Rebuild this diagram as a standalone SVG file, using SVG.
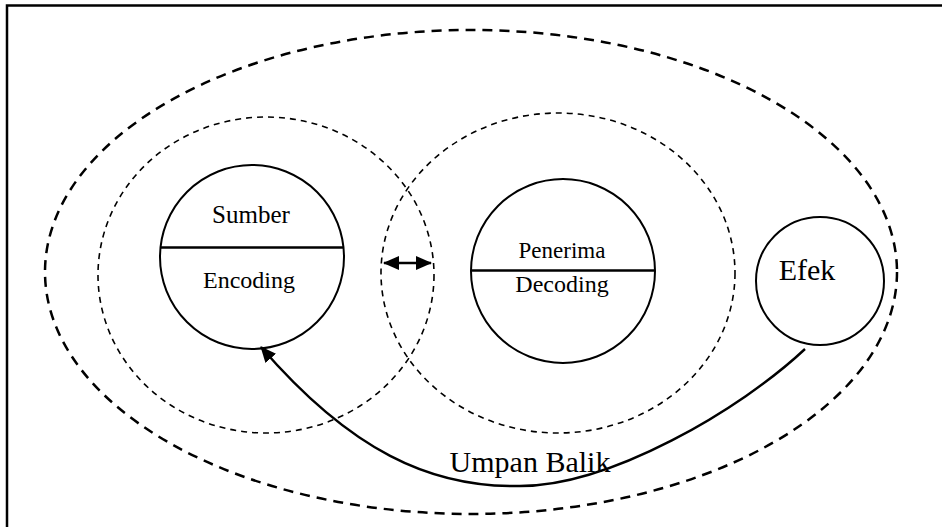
<svg xmlns="http://www.w3.org/2000/svg" width="942" height="527" viewBox="0 0 942 527">
<style>
.t{font-family:"Liberation Serif","Times New Roman",serif;fill:#000;text-anchor:middle}
.node{fill:none;stroke:#000;stroke-width:2}
.big{fill:none;stroke:#000;stroke-width:2.5;stroke-dasharray:10 7}
.ring{fill:none;stroke:#000;stroke-width:1.6;stroke-dasharray:6 5}
.conn{fill:none;stroke:#000;stroke-width:2.4}
</style>
<defs>
<marker id="ah" viewBox="0 0 16 14" refX="15" refY="7" markerWidth="16" markerHeight="14" markerUnits="userSpaceOnUse" orient="auto-start-reverse">
<path d="M0,0 L16,7 L0,14 Z" fill="#000"/>
</marker>
</defs>
<rect width="942" height="527" fill="#fff"/>
<path d="M7,527 V5.5 H942" fill="none" stroke="#000" stroke-width="2.5"/>
<g id="outer"><ellipse class="big" cx="471" cy="272" rx="426" ry="242"/></g>
<g id="field-source"><ellipse class="ring" cx="266" cy="275" rx="168" ry="158"/></g>
<g id="field-receiver"><ellipse class="ring" cx="558" cy="273" rx="177" ry="160"/></g>
<g id="sumber">
<circle class="node" cx="252" cy="257" r="92"/>
<line x1="160.5" y1="247.5" x2="343.5" y2="247.5" stroke="#000" stroke-width="2.5"/>
<text class="t" x="251" y="223" font-size="25">Sumber</text>
<text class="t" x="249" y="288" font-size="24">Encoding</text>
</g>
<g id="penerima">
<circle class="node" cx="563" cy="271" r="92"/>
<line x1="471" y1="270.5" x2="655" y2="270.5" stroke="#000" stroke-width="2.5"/>
<text class="t" x="562" y="258" font-size="23">Penerima</text>
<text class="t" x="562" y="292" font-size="24">Decoding</text>
</g>
<g id="efek">
<circle class="node" cx="820" cy="281" r="64"/>
<text class="t" x="807" y="280" font-size="30">Efek</text>
</g>
<g id="connectors">
<line class="conn" x1="384" y1="263" x2="431" y2="263" marker-start="url(#ah)" marker-end="url(#ah)"/>
<path class="conn" d="M805,349 C740,410 610,486 520,486 C430,488 350,450 261,347" marker-end="url(#ah)"/>
<text class="t" x="530" y="472" font-size="30">Umpan Balik</text>
</g>
</svg>
